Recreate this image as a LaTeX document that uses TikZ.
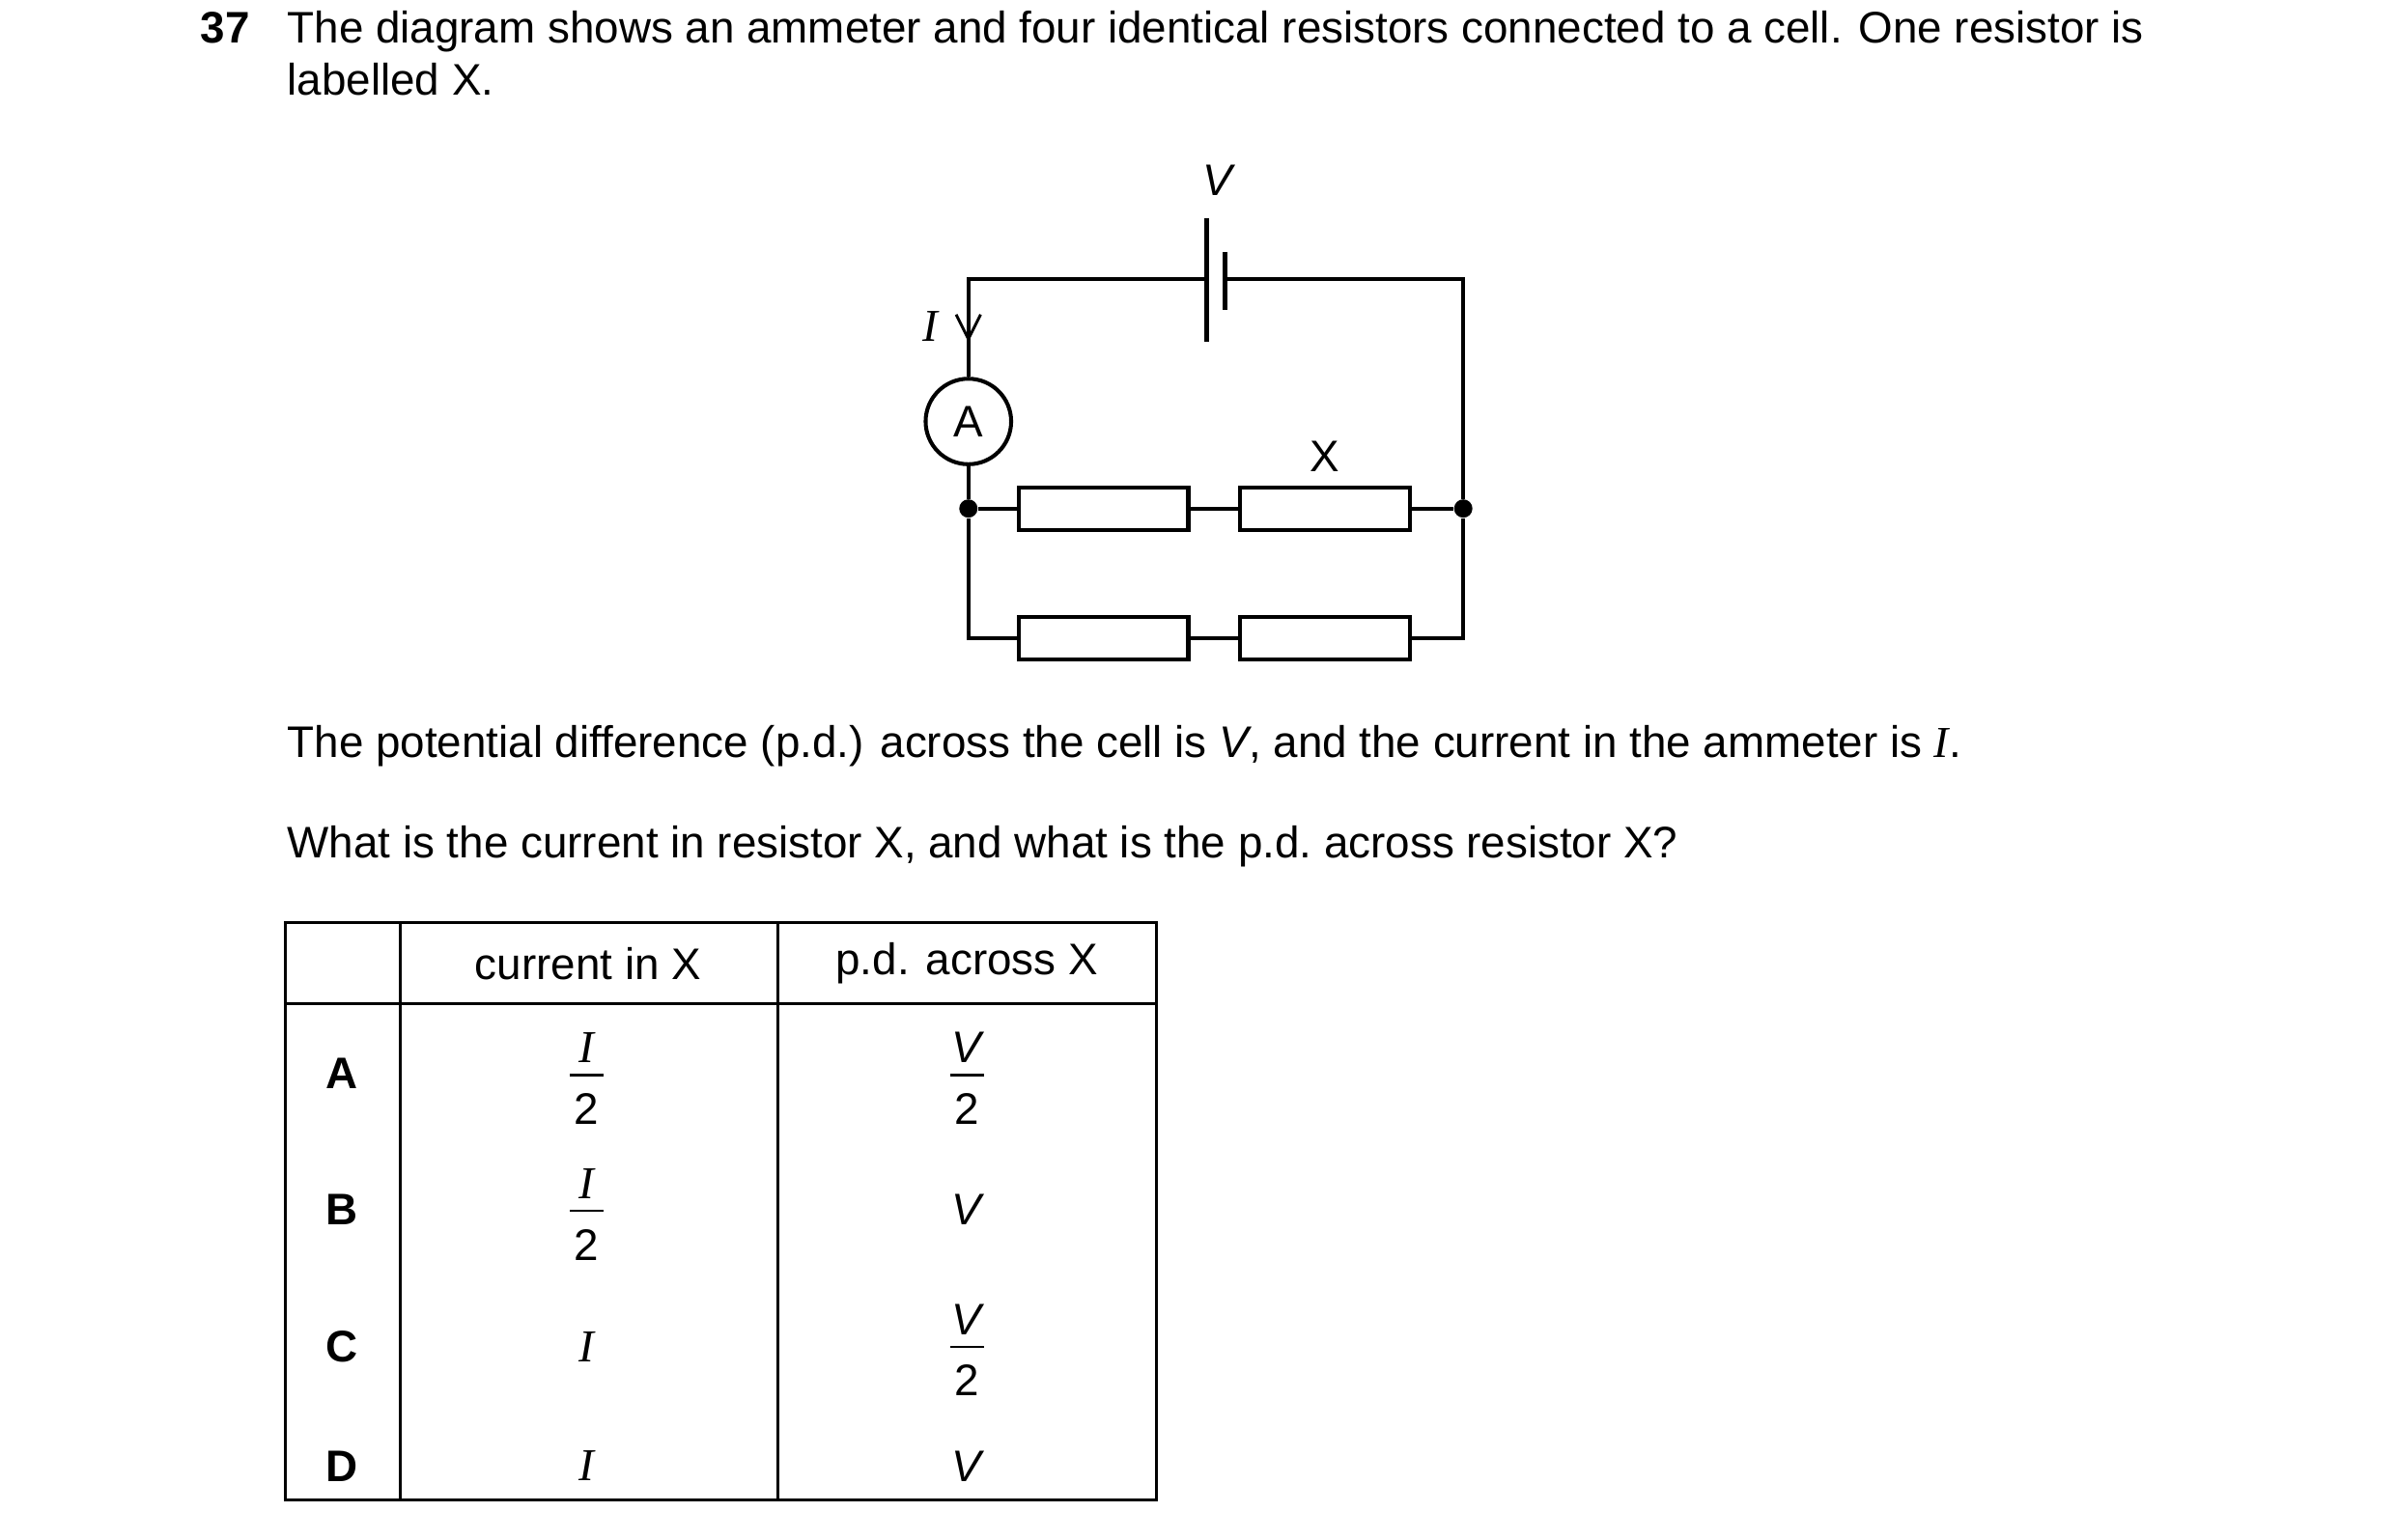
\documentclass[tikz,border=0pt]{standalone}
\usepackage{fontspec}
\setmainfont{Liberation Sans}
\newfontfamily\serf{Liberation Serif}
\usetikzlibrary{arrows.meta}
\begin{document}
\begin{tikzpicture}[x=0.3mm,y=-0.3mm,
  txt/.style={inner sep=0pt,font=\fontsize{24.7}{28}\selectfont},
  ser/.style={inner sep=0pt,font=\fontsize{25.5}{28}\selectfont\serf\itshape},
  sit/.style={inner sep=0pt,font=\fontsize{24.7}{28}\selectfont\itshape},
  w/.style={line width=2.2pt},
  res/.style={draw,line width=2.2pt,minimum width=33.3mm,minimum height=8.4mm,inner sep=0pt},
  dot/.style={circle,fill,inner sep=0pt,minimum size=3.6mm},
  cell/.style={line width=2.2pt}]
\useasboundingbox (0,0) rectangle (1568,1008);
% question text
\node[txt,anchor=base west,font=\fontsize{24.7}{28}\selectfont\bfseries] (num) at (131,28) {37};
\node[txt,anchor=base west,text width=374.7mm,align=justify] (q) at (188,28) {\parfillskip=0pt The diagram shows an ammeter and four identical resistors connected to a cell. One resistor is};
\node[txt,anchor=base west] (q2) at (188,62) {labelled X.};
% circuit
\coordinate (tl) at (634,183); \coordinate (tr) at (958,183);
\coordinate (c1) at (790,183); \coordinate (c2) at (802,183);
\node[dot] (jl) at (634,333) {}; \node[dot] (jr) at (958,333) {};
\coordinate (bl) at (634,418); \coordinate (br) at (958,418);
\node[circle,draw,line width=2.2pt,minimum size=16.8mm,inner sep=0pt,txt] (am) at (634,276) {A};
\node[res] (r1) at (722.5,333) {}; \node[res] (r2) at (867.5,333) {};
\node[res] (r3) at (722.5,418) {}; \node[res] (r4) at (867.5,418) {};
\draw[w] (c1) -- (tl) -- (am.north);
\draw[w] (c2) -- (tr) -- (jr) -- (br) -- (r4.east);
\draw[w] (am.south) -- (jl) -- (bl) -- (r3.west);
\draw[w] (jl) -- (r1.west); \draw[w] (r1.east) -- (r2.west); \draw[w] (r2.east) -- (jr);
\draw[w] (r3.east) -- (r4.west);
\draw[cell] (790,143) -- (790,224);
\draw[cell] (802,165) -- (802,203);
\coordinate (ah) at (634,222);
\draw[line width=1.6pt] (626,206) -- (ah) -- (642,206);
\node[ser] (il) at (609,214) {I};
\node[sit] (vl) at (797,118) {V};
\node[txt] (xl) at (867,299) {X};
% text
\node[txt,anchor=base west] (t1) at (188,496) {The potential difference (p.d.) across the cell is \textit{V}, and the current in the ammeter is {\serf\itshape I}.};
\node[txt,anchor=base west] (t2) at (188,562) {What is the current in resistor X, and what is the p.d.\ across resistor X?};
% table
\draw[line width=1.6pt] (187,604) rectangle (757,982);
\draw[line width=1.6pt] (262,604) -- (262,982) (509,604) -- (509,982) (187,657) -- (757,657);
\node[txt] (h1) at (385,631) {current in X};
\node[txt] (h2) at (633,631) {p.d. across X};
\foreach \l/\y in {A/703,B/792,C/882,D/960}{\node[txt,font=\fontsize{24.7}{28}\selectfont\bfseries] (row\l) at (224,\y) {\l};}
% fractions
\node[ser] (fa1) at (384,686) {I};
\node[ser] (fb1) at (384,775) {I};
\node[sit] (fa2) at (633,686) {V};
\node[sit] (fc2) at (633,864) {V};
\foreach \x/\y in {384/704,384/793,633/704,633/882}{
  \draw[line width=1.2pt] (\x-11,\y) -- (\x+11,\y);
  \node[txt] at (\x,\y+22) {2};
}
\node[sit] (vb) at (633,792) {V};
\node[ser] (ic) at (384,882) {I};
\node[ser] (id) at (384,960) {I};
\node[sit] (vd) at (633,960) {V};
\end{tikzpicture}
\end{document}
